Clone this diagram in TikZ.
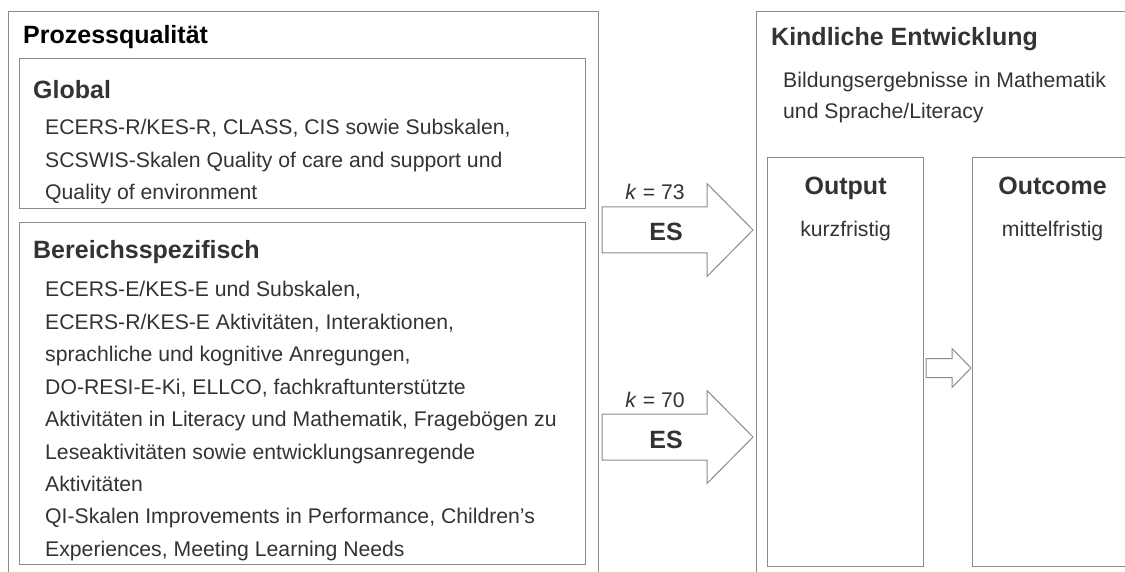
\documentclass[tikz,border=0pt]{standalone}
\usepackage{fontspec}
\setmainfont{Liberation Sans}
\usetikzlibrary{positioning}
\definecolor{framegray}{HTML}{8A8A8A}
\definecolor{textgray}{HTML}{333333}
\tikzset{
    block/.style={
           rectangle,
           draw=framegray, line width=1.2pt,
           inner sep=0pt,
           anchor=north west,
           },
    title/.style={
           font=\fontsize{25}{30}\selectfont\bfseries,
           text=textgray,
           inner sep=0pt,
           anchor=base west,
           },
    body/.style={
           font=\fontsize{21.2}{32}\selectfont,
           text=textgray,
           inner sep=0pt,
           text height=15.5pt,
           text depth=4.5pt,
           },
    fatarrow/.style={
           draw=framegray, line width=1pt,
           fill=white,
           },
}

\begin{document}
\begin{tikzpicture}[x=1pt, y=-1pt, node distance=12pt and 0pt]
	\useasboundingbox (0,0) rectangle (1125,572);
	\clip (0,0) rectangle (1125,572);

	%left column
	\node[block, minimum width=590, minimum height=620] (proz) at (8,11) {};
	\node[title, text=black] (tproz) at (23,44) {Prozessqualität};

	\node[block, minimum width=566, minimum height=150] (glob) at (19,58) {};
	\node[title] (tglob) at (33,99) {Global};
	\node[body, anchor=base west] (g1) at (45,135) {ECERS-R/KES-R, CLASS, CIS sowie Subskalen,};
	\node[body, below right=of g1.south west] (g2) {SCSWIS-Skalen Quality of care and support und};
	\node[body, below right=of g2.south west] (g3) {Quality of environment};

	\node[block, minimum width=566, minimum height=342] (ber) at (19,222) {};
	\node[title] (tber) at (33,259) {Bereichsspezifisch};
	\node[body, anchor=base west] (b1) at (45,297) {ECERS-E/KES-E und Subskalen,};
	\node[body, below right=of b1.south west] (b2) {ECERS-R/KES-E Aktivitäten, Interaktionen,};
	\node[body, below right=of b2.south west] (b3) {sprachliche und kognitive Anregungen,};
	\node[body, below right=of b3.south west] (b4) {DO-RESI-E-Ki, ELLCO, fachkraftunterstützte};
	\node[body, below right=of b4.south west] (b5) {Aktivitäten in Literacy und Mathematik, Fragebögen zu};
	\node[body, below right=of b5.south west] (b6) {Leseaktivitäten sowie entwicklungsanregende};
	\node[body, below right=of b6.south west] (b7) {Aktivitäten};
	\node[body, below right=of b7.south west] (b8) {QI-Skalen Improvements in Performance, Children’s};
	\node[body, below right=of b8.south west] (b9) {Experiences, Meeting Learning Needs};

	%right column
	\node[block, minimum width=380, minimum height=620] (kind) at (756,11) {};
	\node[title] (tkind) at (771,46) {Kindliche Entwicklung};
	\node[body, anchor=base west] (k1) at (783,88) {Bildungsergebnisse in Mathematik};
	\node[body, below right=10pt and 0pt of k1.south west] (k2) {und Sprache/Literacy};

	\node[block, minimum width=156, minimum height=409] (out) at (767,157) {};
	\node[title, anchor=base] (tout) at (out.north |- 0,195) {Output};
	\node[body, anchor=base] (sout) at (out.north |- 0,237) {kurzfristig};

	\node[block, minimum width=160, minimum height=409] (outc) at (972,157) {};
	\node[title, anchor=base] (toutc) at (outc.north |- 0,195) {Outcome};
	\node[body, anchor=base] (soutc) at (outc.north |- 0,237) {mittelfristig};

	%ARROWS
	\draw[fatarrow] ([xshift=-14pt]out.west |- 0,230) coordinate (tip1)
		-- ++(-46,-46.5) -- ++(0,23.5) -- ++(-105,0) -- ++(0,46) -- ++(105,0) -- ++(0,23.5) -- cycle;
	\draw[fatarrow] ([xshift=-14pt]out.west |- 0,437) coordinate (tip2)
		-- ++(-46,-46.5) -- ++(0,23.5) -- ++(-105,0) -- ++(0,46) -- ++(105,0) -- ++(0,23.5) -- cycle;
	\draw[fatarrow] ([xshift=-1pt]outc.west |- 0,368) coordinate (tip3)
		-- ++(-19,-19.5) -- ++(0,10) -- ++(-26,0) -- ++(0,19) -- ++(26,0) -- ++(0,10) -- cycle;

	\node[body, anchor=base] (kk1) at (655,200) {\textit{k} = 73};
	\node[title, anchor=base] (es1) at (666,241) {ES};
	\node[body, anchor=base] (kk2) at (655,407) {\textit{k} = 70};
	\node[title, anchor=base] (es2) at (666,448) {ES};

\end{tikzpicture}
\end{document}
